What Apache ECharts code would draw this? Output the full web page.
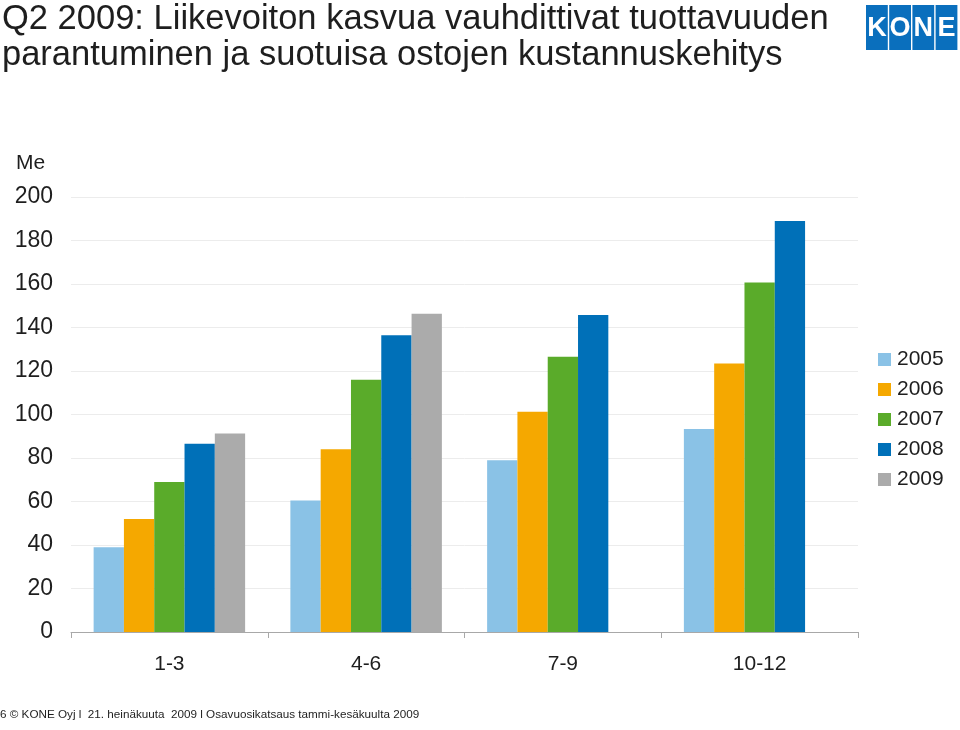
<!DOCTYPE html>
<html>
<head>
<meta charset="utf-8">
<script src="https://cdn.jsdelivr.net/npm/echarts@6/dist/echarts.min.js"></script>
<style>html,body{margin:0;padding:0;background:#fff}#c{width:960px;height:730px}</style>
</head>
<body>
<div id="c"></div>
<script>
var categories = ['1-3', '4-6', '7-9', '10-12'];
var years = ['2005', '2006', '2007', '2008', '2009'];
var v2005 = [39, 60.5, 79, 93.3];
var v2006 = [52, 84, 101.3, 123.5];
var v2007 = [69, 116, 126.6, 160.7];
var v2008 = [86.6, 136.4, 145.7, 189];
var v2009 = [91.3, 146.3, null, null];
var colors = ['#8ac2e6', '#f5a800', '#5aab2a', '#0070b8', '#ababab'];
var seriesData = [v2005, v2006, v2007, v2008, v2009];

var FONT = '"Liberation Sans", Arial, sans-serif';
var chart = echarts.init(document.getElementById('c'), null, {renderer: 'canvas'});

var series = years.map(function (y, i) {
  return {
    name: y,
    type: 'bar',
    data: seriesData[i],
    barGap: '0%',
    barCategoryGap: '23%',
    itemStyle: {color: colors[i]}
  };
});

var logoLetters = ['K', 'O', 'N', 'E'];
var logo = logoLetters.map(function (ch, i) {
  return {
    type: 'group',
    left: 866 + i * 23.2,
    top: 5,
    children: [
      {type: 'rect', shape: {x: 0, y: 0, width: 21.8, height: 45}, style: {fill: '#0a6fbd'}},
      {type: 'text', x: 10.9, y: 24, style: {text: ch, fill: '#fff', font: 'bold 27px ' + FONT, align: 'center', verticalAlign: 'middle'}}
    ]
  };
});

chart.setOption({
  backgroundColor: '#fff',
  animation: false,
  color: colors,
  title: {
    text: 'Q2 2009: Liikevoiton kasvua vauhdittivat tuottavuuden\nparantuminen ja suotuisa ostojen kustannuskehitys',
    left: -3,
    top: -4,
    textStyle: {fontFamily: FONT, fontSize: 34.5, fontWeight: 'normal', color: '#1e1e1e', lineHeight: 36}
  },
  legend: {
    orient: 'vertical',
    left: 873,
    top: 344,
    itemWidth: 13,
    itemHeight: 13,
    itemGap: 9,
    icon: 'rect',
    data: years,
    textStyle: {fontFamily: FONT, fontSize: 21, color: '#1e1e1e', padding: [0, 0, 0, 1]}
  },
  grid: {left: 71, right: 102, top: 197, bottom: 98, containLabel: false},
  xAxis: {
    type: 'category',
    data: categories,
    axisLine: {lineStyle: {color: '#a8a8a8', width: 1}},
    axisTick: {show: true, length: 6, lineStyle: {color: '#a8a8a8'}},
    axisLabel: {fontFamily: FONT, fontSize: 21, color: '#1e1e1e', margin: 22}
  },
  yAxis: {
    type: 'value',
    min: 0,
    max: 200,
    interval: 20,
    axisLine: {show: false},
    axisTick: {show: false},
    axisLabel: {fontFamily: FONT, fontSize: 23, color: '#1e1e1e', margin: 18, padding: [6, 0, 0, 0]},
    splitLine: {lineStyle: {color: '#ececec', width: 1}}
  },
  graphic: logo.concat([
    {type: 'text', left: 16, top: 153, style: {text: 'Me', font: '21px ' + FONT, fill: '#1e1e1e'}},
    {type: 'text', left: 0, top: 709, style: {text: '6 \u00a9 KONE Oyj l  21. hein\u00e4kuuta  2009 l Osavuosikatsaus tammi-kes\u00e4kuulta 2009', font: '11.7px ' + FONT, fill: '#1e1e1e'}}
  ]),
  series: series
});
</script>
</body>
</html>
